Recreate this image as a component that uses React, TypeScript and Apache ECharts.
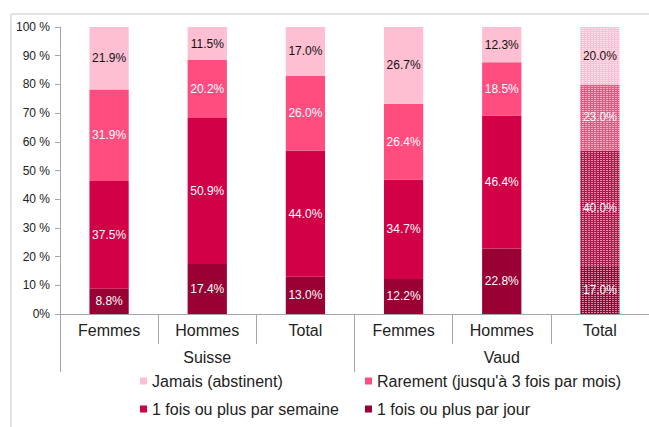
import React, { useEffect, useRef } from "react";
import * as echarts from "echarts";

const categories = ["Femmes", "Hommes", "Total", "Femmes", "Hommes", "Total"];
const groups = ["Suisse", "Vaud"];
const yTicks = ["0%", "10 %", "20 %", "30 %", "40 %", "50 %", "60 %", "70 %", "80 %", "90 %", "100 %"];

const seriesNames = [
  "1 fois ou plus par jour",
  "1 fois ou plus par semaine",
  "Rarement (jusqu'à 3 fois par mois)",
  "Jamais (abstinent)",
];
const parJour = [8.8, 17.4, 13.0, 12.2, 22.8, 17.0];
const parSemaine = [37.5, 50.9, 44.0, 34.7, 46.4, 40.0];
const rarement = [31.9, 20.2, 26.0, 26.4, 18.5, 23.0];
const jamais = [21.9, 11.5, 17.0, 26.7, 12.3, 20.0];

const colors = ["#990033", "#D20046", "#FF4D80", "#FFBFD2"];
const labelColors = ["#ffffff", "#ffffff", "#ffffff", "#111111"];
const patternedIndex = 5;

export default function App() {
  const ref = useRef<HTMLDivElement>(null);
  useEffect(() => {
    const chart = echarts.init(ref.current!, null, { renderer: "svg" });
    const allValues = [parJour, parSemaine, rarement, jamais];
    const font = "'Liberation Sans', Arial, sans-serif";
    const series = allValues.map((vals, si) => ({
      name: seriesNames[si],
      type: "bar",
      stack: "total",
      barWidth: "40%",
      itemStyle: { color: colors[si] },
      label: {
        show: true,
        position: "inside",
        color: labelColors[si],
        fontFamily: font,
        fontSize: 12,
        formatter: (p: any) => p.value.toFixed(1) + "%",
      },
      data: vals.map((v, i) =>
        i === patternedIndex
          ? {
              value: v,
              itemStyle: {
                color: colors[si],
                decal: {
                  symbol: "rect",
                  symbolSize: 1,
                  dashArrayX: [[2, 1]],
                  dashArrayY: [1, 1],
                  color: "rgba(255,255,255,0.55)",
                  rotation: 0,
                },
              },
            }
          : v
      ),
    }));

    const legendText = { fontSize: 16, color: "#222", fontFamily: font, lineHeight: 18 };
    chart.setOption({
      animation: false,
      backgroundColor: "#ffffff",
      textStyle: { fontFamily: font },
      graphic: [
        {
          type: "rect",
          shape: { x: 11, y: 14, width: 700, height: 500 },
          style: { fill: "none", stroke: "#c8c8c8", lineWidth: 1 },
          silent: true,
          z: -1,
        },
      ],
      grid: { left: 60, top: 27, width: 594, bottom: 113 },
      legend: [
        {
          orient: "vertical",
          left: 140,
          top: 372,
          padding: 0,
          itemWidth: 7,
          itemHeight: 7,
          itemGap: 10,
          icon: "rect",
          data: [seriesNames[3], seriesNames[1]],
          textStyle: legendText,
        },
        {
          orient: "vertical",
          left: 365,
          top: 372,
          padding: 0,
          itemWidth: 7,
          itemHeight: 7,
          itemGap: 10,
          icon: "rect",
          data: [seriesNames[2], seriesNames[0]],
          textStyle: legendText,
        },
      ],
      xAxis: [
        {
          type: "category",
          data: categories,
          position: "bottom",
          offset: 0,
          axisLine: { lineStyle: { color: "#a6a6a6" } },
          axisTick: { show: true, length: 30, interval: 0, lineStyle: { color: "#a6a6a6" } },
          axisLabel: { color: "#222", fontSize: 16, margin: 8, interval: 0 },
        },
        {
          type: "category",
          data: groups,
          position: "bottom",
          offset: 0,
          axisLine: { show: false },
          axisTick: { show: true, length: 58, interval: 0, lineStyle: { color: "#a6a6a6" } },
          axisLabel: { color: "#222", fontSize: 16, margin: 35, interval: 0 },
        },
      ],
      yAxis: {
        type: "value",
        min: 0,
        max: 100,
        interval: 10,
        axisLine: { show: true, lineStyle: { color: "#a6a6a6" } },
        axisTick: { show: true, length: 5, lineStyle: { color: "#a6a6a6" } },
        splitLine: { show: false },
        axisLabel: {
          color: "#222",
          fontSize: 12,
          margin: 10,
          formatter: (v: number) => yTicks[Math.round(v / 10)],
        },
      },
      series,
    });
    return () => chart.dispose();
  }, []);
  return (
    <div
      ref={ref}
      style={{ position: "absolute", left: 0, top: 0, width: 649, height: 427 }}
    />
  );
}
